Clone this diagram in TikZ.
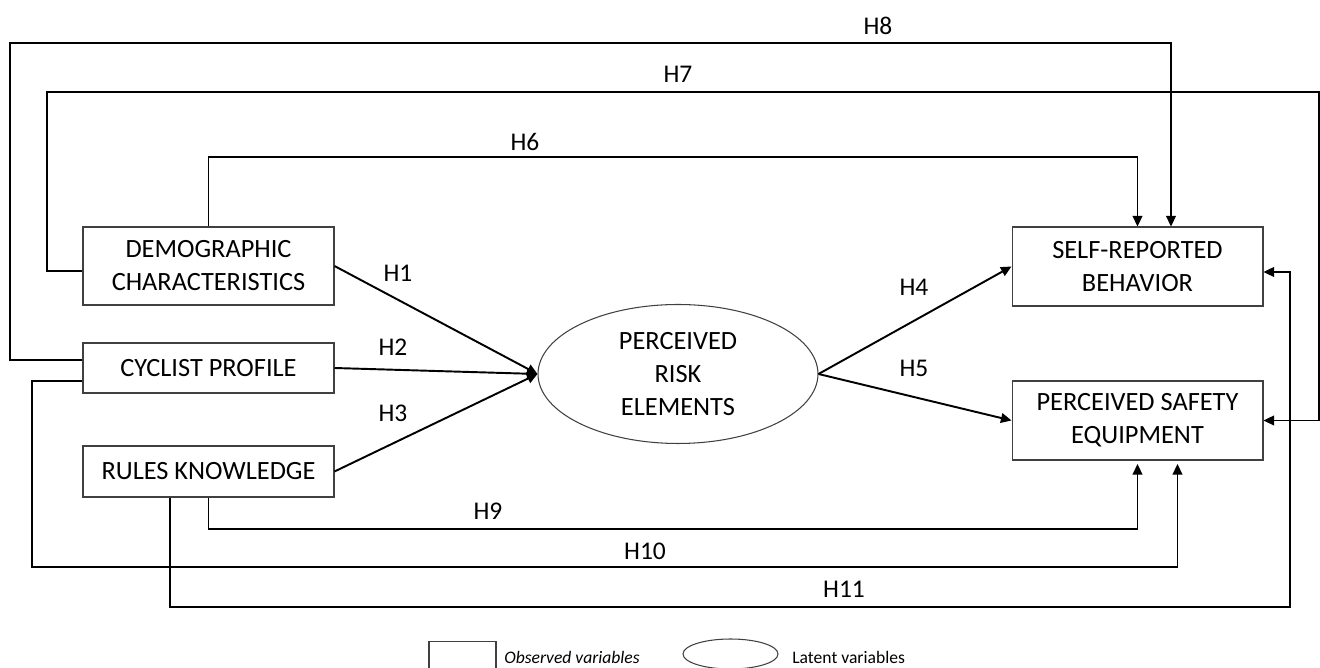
\documentclass[tikz,border=0pt]{standalone}
\usepackage{fontspec}
\setmainfont{Carlito}
\usetikzlibrary{arrows.meta,shapes.geometric}

\begin{document}
\begin{tikzpicture}[x=0.02cm, y=-0.02cm,
    obs/.style={draw=black!75, line width=0.6pt, minimum width=5.02cm, align=center, inner sep=0pt, font=\fontsize{15}{18.8}\selectfont},
    lat/.style={draw=black!75, line width=0.6pt, ellipse, align=center, inner sep=0pt, font=\fontsize{15}{18.8}\selectfont},
    conn/.style={line width=1.1pt, -{Triangle[length=6pt,width=5.5pt]}},
    hlab/.style={inner sep=0pt, font=\fontsize{14.5}{17}\selectfont},
    legtxt/.style={anchor=west, inner sep=0pt, font=\fontsize{10}{12}\selectfont}]
    \useasboundingbox (0,0) rectangle (1320,668);
        % observed and latent variables
        \node[obs, minimum height=1.56cm] (demo) at (208.5,266) {DEMOGRAPHIC\\CHARACTERISTICS};
        \node[obs, minimum height=1.0cm] (cyc) at (208.5,368) {CYCLIST PROFILE};
        \node[obs, minimum height=1.02cm] (rules) at (208.5,471.5) {RULES KNOWLEDGE};
        \node[lat, minimum width=5.6cm, minimum height=2.78cm] (risk) at (678,374) {PERCEIVED\\RISK\\ELEMENTS};
        \node[obs, minimum height=1.58cm] (srb) at (1137.5,266.5) {SELF-REPORTED\\BEHAVIOR};
        \node[obs, minimum height=1.58cm] (pse) at (1137.5,420.5) {PERCEIVED SAFETY\\EQUIPMENT};
        % direct paths
        \draw[conn] (demo.east) -- (risk.west);
        \draw[conn] (cyc.east) -- (risk.west);
        \draw[conn] (rules.east) -- (risk.west);
        \draw[conn] (risk.east) -- (srb.west);
        \draw[conn] (risk.east) -- (pse.west);
        % paths round the top
        \draw[conn] (demo.north) -- (demo.north |- 0,157) -| (srb.north);
        \draw[conn] ([yshift=-0.1cm]demo.west) -| (47,92) -- (1319,92) |- (pse.east);
        \draw[conn] ([yshift=0.16cm]cyc.west) -| (10,43) -| ([xshift=0.67cm]srb.north);
        % paths round the bottom
        \draw[conn, shorten >=2pt] (rules.south) -- (rules.south |- 0,529) -| (pse.south);
        \draw[conn, shorten >=2pt] ([yshift=-0.26cm]cyc.west) -| (32,567) -| ([xshift=0.8cm]pse.south);
        \draw[conn] ([xshift=-0.77cm]rules.south) |- (1290,607) |- ([yshift=-0.11cm]srb.east);
        % hypotheses
        \node[hlab] (lh1) at (398,273) {H1};
        \node[hlab] (lh2) at (393,347) {H2};
        \node[hlab] (lh3) at (393,413) {H3};
        \node[hlab] (lh4) at (914,287) {H4};
        \node[hlab] (lh5) at (914,368) {H5};
        \node[hlab] (lh6) at (525,142) {H6};
        \node[hlab] (lh7) at (678,74) {H7};
        \node[hlab] (lh8) at (878,26) {H8};
        \node[hlab] (lh9) at (488,511) {H9};
        \node[hlab] (lh10) at (645,551) {H10};
        \node[hlab] (lh11) at (844,589) {H11};
        % legend
        \node[draw=black!75, line width=0.6pt, minimum width=1.34cm, minimum height=0.66cm] (legobs) at (462.5,658) {};
        \node[legtxt] (legobstxt) at (504,657) {\itshape Observed variables};
        \node[draw=black!75, line width=0.6pt, ellipse, minimum width=1.9cm, minimum height=0.6cm] (leglat) at (730.5,654) {};
        \node[legtxt] (leglattxt) at (792,657) {Latent variables};
    \end{tikzpicture}
\end{document}
